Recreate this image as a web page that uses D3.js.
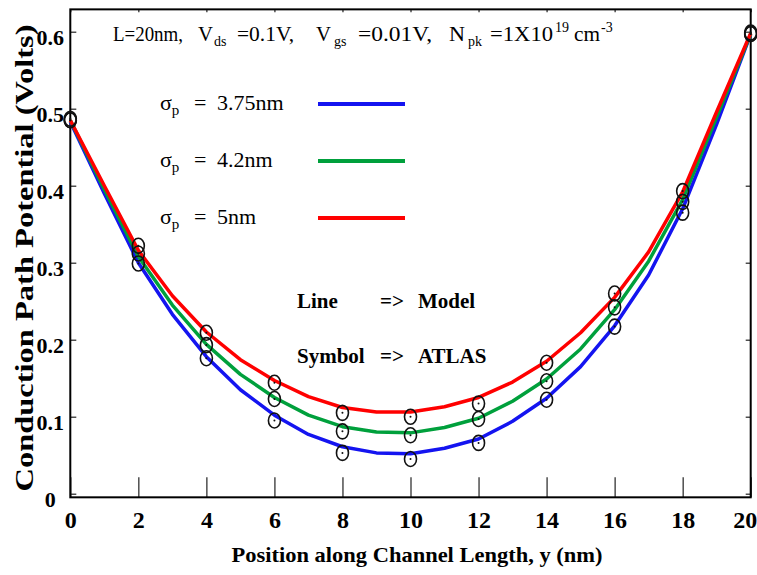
<!DOCTYPE html>
<html>
<head>
<meta charset="utf-8">
<script src="https://cdn.jsdelivr.net/npm/d3@7"></script>
<style>
  body { margin: 0; background: #fff; }
</style>
</head>
<body>
<svg id="chart" width="757" height="575"></svg>
<script>

// model curves, one value per nm along the channel
var modelPos   = [0,1,2,3,4,5,6,7,8,9,10,11,12,13,14,15,16,17,18,19,20];
var modelBlue  = [0.483,0.390,0.300,0.233,0.178,0.135,0.102,0.077,0.061,0.053,0.052,0.059,0.071,0.094,0.124,0.165,0.218,0.284,0.370,0.480,0.597];
var modelGreen = [0.485,0.395,0.308,0.245,0.194,0.155,0.125,0.102,0.087,0.080,0.079,0.086,0.098,0.120,0.149,0.188,0.239,0.302,0.382,0.489,0.597];
var modelRed   = [0.485,0.400,0.316,0.257,0.210,0.174,0.147,0.126,0.112,0.106,0.106,0.113,0.125,0.145,0.172,0.209,0.255,0.314,0.392,0.496,0.598];

// ATLAS simulation points
var atlasPos   = [0,2,4,6,8,10,12,14,16,18,20];
var atlasBlue  = [0.485,0.299,0.176,0.095,0.053,0.045,0.066,0.122,0.217,0.365,0.597];
var atlasGreen = [0.485,0.312,0.193,0.123,0.081,0.076,0.097,0.146,0.242,0.379,0.597];
var atlasRed   = [0.487,0.322,0.209,0.144,0.105,0.100,0.117,0.170,0.260,0.393,0.599];

var xTicks = [0,2,4,6,8,10,12,14,16,18,20];
var yTicks = [0,0.1,0.2,0.3,0.4,0.5,0.6];

var seriesNames = ["3.75nm", "4.2nm", "5nm"];
var seriesColors = ["#1414f0", "#00a03c", "#ff0000"];

var SERIF = "'Liberation Serif', 'Times New Roman', Times, serif";

var svg = d3.select("#chart").style("font-family", SERIF);

var x = d3.scaleLinear().domain([0, 20]).range([70.3, 750.7]);
var y = d3.scaleLinear().domain([0, 0.6]).range([493.7, 31.7]);

var frameTop = y(0.629), frameBottom = y(-0.0047);

// helper so every label gets the serif face
function label(parent, size, weight) {
  return parent.append("text")
      .style("font-family", SERIF)
      .style("font-size", size + "px")
      .style("font-weight", weight || "normal")
      .attr("fill", "#000");
}

/* ticks first, frame drawn on top */
var bottomAxis = svg.append("g")
    .attr("transform", "translate(0," + frameBottom + ")")
    .call(d3.axisBottom(x).tickValues(xTicks).tickSizeInner(-20).tickSizeOuter(0).tickPadding(14)
            .tickFormat(d3.format("d")));

bottomAxis.selectAll("text")
    .style("font-family", SERIF)
    .style("font-weight", "bold")
    .style("font-size", "24px")
    .attr("fill", "#000");

// last label sits against the right edge of the picture
bottomAxis.selectAll("text").filter(function(d) { return d === 20; })
    .attr("text-anchor", "end")
    .attr("x", 6);

var leftAxis = svg.append("g")
    .attr("transform", "translate(" + x(0) + ",0)")
    .call(d3.axisLeft(y).tickValues(yTicks).tickSizeInner(-6).tickSizeOuter(0)
            .tickFormat(function(d) { return d === 0 ? "0" : d3.format(".1f")(d); }));

leftAxis.selectAll("text")
    .attr("text-anchor", "middle")
    .attr("x", -20)
    .attr("dy", 13)
    .style("font-family", SERIF)
    .style("font-weight", "bold")
    .style("font-size", "22px")
    .attr("fill", "#000");

svg.append("g")
    .attr("transform", "translate(0," + frameTop + ")")
    .call(d3.axisTop(x).tickValues(xTicks).tickSizeInner(-3).tickSizeOuter(0).tickFormat(""));

svg.append("g")
    .attr("transform", "translate(" + x(20) + ",0)")
    .call(d3.axisRight(y).tickValues(yTicks).tickSizeInner(-5).tickSizeOuter(0).tickFormat(""));

svg.selectAll(".domain").remove();
svg.selectAll(".tick line").attr("stroke", "#222").attr("stroke-width", 1.2);

svg.append("rect")
    .attr("x", x(0))
    .attr("y", frameTop)
    .attr("width", x(20) - x(0))
    .attr("height", frameBottom - frameTop)
    .attr("fill", "none")
    .attr("stroke", "#000")
    .attr("stroke-width", 2);

// model lines
var line = d3.line()
    .x(function(d, i) { return x(modelPos[i]); })
    .y(function(d) { return y(d); });

[modelBlue, modelGreen, modelRed].forEach(function(vals, i) {
  svg.append("path")
      .datum(vals)
      .attr("d", line)
      .attr("fill", "none")
      .attr("stroke", seriesColors[i])
      .attr("stroke-width", 3.5)
      .attr("stroke-linejoin", "round");
});

// ATLAS markers: open circle with a dot
[atlasBlue, atlasGreen, atlasRed].forEach(function(vals) {
  var g = svg.append("g").selectAll("g").data(vals).enter().append("g")
      .attr("transform", function(d, i) { return "translate(" + x(atlasPos[i]) + "," + y(d) + ")"; });
  g.append("ellipse")
      .attr("rx", 6).attr("ry", 7.5)
      .attr("fill", "none")
      .attr("stroke", "#111")
      .attr("stroke-width", 1.6);
  g.append("circle").attr("r", 1).attr("fill", "#111");
});

/* device conditions along the top, laid out piece by piece
   (the scanned figure spaces its subscripts loosely) */
var condBase = 41;
// [text, left, width, kind]  kind: 0 normal, 1 subscript, 2 superscript
var condPieces = [
  ["L=20nm,", 113, 70, 0],
  ["V", 198, 15, 0], ["ds", 214, 0, 1], ["=0.1V,", 237, 57, 0],
  ["V", 316, 15, 0], ["gs", 334, 0, 1], ["=0.01V,", 358, 74, 0],
  ["N", 449, 16, 0], ["pk", 468, 0, 1], ["=1X10", 490, 63, 0],
  ["19", 555, 0, 2], ["cm", 574, 26, 0], ["-3", 601, 0, 2]
];
condPieces.forEach(function(p) {
  var t = label(svg, p[3] > 0 ? 14 : 21)
      .attr("x", p[1])
      .attr("y", condBase + (p[3] === 1 ? 5 : p[3] === 2 ? -9 : 0))
      .text(p[0]);
  if (p[2] > 0) t.attr("textLength", p[2]).attr("lengthAdjust", "spacingAndGlyphs");
});

// legend
var legendY = [104, 161, 218];
seriesNames.forEach(function(name, i) {
  var t = label(svg, 22).attr("y", legendY[i] + 6);
  t.append("tspan").attr("x", 160).text("\u03c3");
  t.append("tspan").attr("dy", 5).style("font-size", "15px").text("p");
  t.append("tspan").attr("dy", -5).attr("x", 194).text("=");
  t.append("tspan").attr("x", 217).text(name);

  svg.append("line")
      .attr("x1", 318).attr("x2", 405)
      .attr("y1", legendY[i]).attr("y2", legendY[i])
      .attr("stroke", seriesColors[i])
      .attr("stroke-width", 4);
});

var notes = [["Line", 308, "Model"], ["Symbol", 363, "ATLAS"]];
notes.forEach(function(n) {
  label(svg, 21, "bold").attr("x", 297).attr("y", n[1]).text(n[0]);
  label(svg, 21, "bold").attr("x", 380).attr("y", n[1]).text("=>");
  label(svg, 21, "bold").attr("x", 418).attr("y", n[1]).text(n[2]);
});

// axis titles
label(svg, 22, "bold")
    .attr("x", 417).attr("y", 562)
    .attr("text-anchor", "middle")
    .attr("textLength", 371)
    .attr("lengthAdjust", "spacingAndGlyphs")
    .text("Position along Channel Length, y (nm)");

label(svg, 25, "bold")
    .attr("transform", "translate(33,258) rotate(-90)")
    .attr("text-anchor", "middle")
    .attr("textLength", 467)
    .attr("lengthAdjust", "spacingAndGlyphs")
    .text("Conduction Path Potential (Volts)");

</script>
</body>
</html>
